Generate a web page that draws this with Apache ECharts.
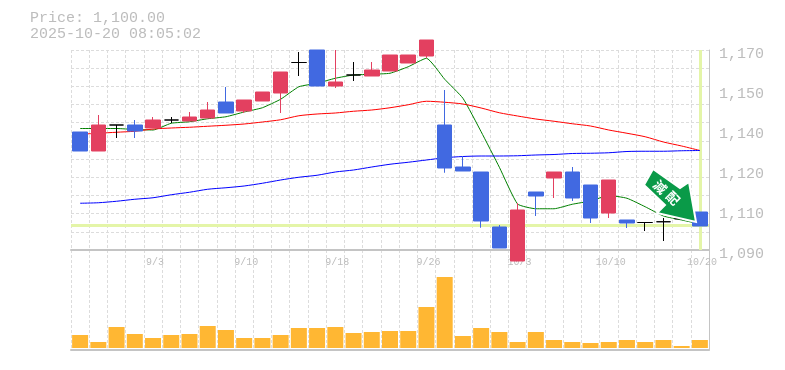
<!DOCTYPE html>
<html>
<head>
<meta charset="utf-8">
<style>
  html, body { margin: 0; padding: 0; background: #fff; }
  #chart { width: 785px; height: 370px; }
</style>
</head>
<body>
<div id="chart"></div>
<script src="https://cdn.jsdelivr.net/npm/echarts@6/dist/echarts.min.js"></script>
<script>
const dates = ['8/28', '8/29', '9/1', '9/2', '9/3', '9/4', '9/5', '9/8', '9/9', '9/10',
  '9/11', '9/12', '9/16', '9/17', '9/18', '9/19', '9/22', '9/24', '9/25', '9/26',
  '9/29', '9/30', '10/1', '10/2', '10/3', '10/6', '10/7', '10/8', '10/9', '10/10',
  '10/14', '10/15', '10/16', '10/17', '10/20']

// open, close, low, high
const candles = [
  [1137.2, 1129.6, 1129.6, 1137.2], [1129.6, 1140, 1129.6, 1144], [1140, 1140, 1134.8, 1140],
  [1140, 1137.6, 1134.8, 1142], [1138.8, 1142, 1138.8, 1143.2], [1142, 1142, 1140.8, 1143.2],
  [1141.6, 1143.2, 1141.6, 1145.2], [1142.8, 1146, 1142.8, 1149.2], [1149.2, 1144.8, 1144.8, 1155.2],
  [1145.6, 1150, 1144.8, 1150], [1149.6, 1153.2, 1149.6, 1153.2], [1152.8, 1161.2, 1144.8, 1161.2],
  [1165, 1165, 1159.6, 1169.2], [1170, 1155.6, 1155.6, 1170], [1155.6, 1157.2, 1154.8, 1170],
  [1160, 1160, 1157.6, 1165.2], [1159.6, 1162, 1159.6, 1165.2], [1161.6, 1168, 1161.6, 1168],
  [1164.8, 1168, 1164.8, 1168], [1167.6, 1174, 1166.8, 1174], [1140, 1122.8, 1120.9, 1154],
  [1123.2, 1121.6, 1121.6, 1127.6], [1121.2, 1101.6, 1098.9, 1121.2], [1099.2, 1090.8, 1090.8, 1100],
  [1085.6, 1106, 1085.6, 1108.8], [1113.2, 1111.6, 1103.6, 1113.2], [1118.8, 1121.2, 1110.8, 1121.2],
  [1121.2, 1110.8, 1109.6, 1123.2], [1116, 1102.8, 1100.8, 1116], [1104.8, 1118, 1102.8, 1118],
  [1102, 1100.8, 1098.8, 1102], [1101, 1101, 1097.6, 1101], [1101.3, 1101.3, 1093.6, 1102.8],
  [1102.5, 1102.5, 1102.2, 1102.8], [1105.2, 1099.6, 1099.6, 1105.2]
]

const maShort = [1138.6, 1138.6, 1138.6, 1138.2, 1138, 1140.7, 1141.3, 1142.5, 1143.3, 1145.2,
  1146.9, 1150.3, 1155.3, 1156.7, 1158.7, 1160, 1160.3, 1160.7, 1163.3, 1166.7,
  1158.3, 1150.7, 1137.3, 1123.1, 1108.4, 1106.5, 1106.5, 1108.3, 1109.6, 1111.8,
  1110.7, 1107.3, 1103.6, 1102, 1100.4]
const maMiddle = [1136.3, 1136.7, 1137.1, 1137.5, 1138.4, 1138.8, 1139.1, 1139.5, 1139.9, 1140.4,
  1141.2, 1142.1, 1143.7, 1144.4, 1144.8, 1145.5, 1146, 1146.9, 1148.1, 1149.5,
  1149.1, 1148.4, 1146.8, 1144.9, 1143.6, 1142.4, 1141.5, 1140.5, 1139.6, 1138,
  1136.7, 1135.3, 1133.2, 1131.6, 1129.8]
const maLong = [1108.7, 1108.9, 1109.5, 1110.3, 1110.9, 1112.1, 1113.1, 1114.3, 1114.9, 1115.6,
  1116.7, 1118, 1119.1, 1119.9, 1121.2, 1122, 1123.2, 1124.3, 1125.1, 1126,
  1126.9, 1127.4, 1127.6, 1127.6, 1127.7, 1128, 1128.2, 1128.6, 1128.7, 1128.9,
  1129.4, 1129.5, 1129.5, 1129.7, 1129.8]

const volumes = [13, 6, 21, 14, 10, 13, 14, 22, 18, 10, 10, 13, 20, 20, 21, 15, 16, 17,
  17, 41, 71, 12, 20, 16, 6, 16, 8, 6, 5, 6, 8, 6, 8, 2, 8]

const priceTicks = [1090, 1106, 1122, 1138, 1154, 1170]
const priceTickLabels = ['1,090', '1,110', '1,120', '1,140', '1,150', '1,170']
const lastPrice = 1100
const lastDate = '10/20'
const headerLines = ['Price: 1,100.00', '2025-10-20 08:05:02']
const badgeChars = ['減', '配']

const gray = '#bdbdbd'
const gridLine = { show: true, interval: 0, lineStyle: { color: '#dcdcdc', type: [3, 2], width: 1 } }

const chart = echarts.init(document.getElementById('chart'), null, { renderer: 'canvas' })
chart.setOption({
  animation: false,
  backgroundColor: '#fff',
  title: {
    text: headerLines.join('\n'),
    left: 30,
    top: 10,
    padding: 0,
    textStyle: { fontFamily: 'Liberation Mono', fontSize: 15, fontWeight: 'normal', color: gray, lineHeight: 16 }
  },
  grid: [
    { left: 71, width: 638, top: 50, height: 200, borderWidth: 0 },
    { left: 71, width: 638, top: 250, height: 100, borderWidth: 0 }
  ],
  xAxis: [
    {
      type: 'category', gridIndex: 0, data: dates, boundaryGap: true,
      axisLine: { onZero: false, lineStyle: { color: '#c4c4c4', width: 2 } },
      axisTick: { show: false },
      splitLine: gridLine,
      axisLabel: {
        interval: (i) => i % 5 === 4,
        hideOverlap: false,
        color: gray, fontFamily: 'Liberation Mono', fontSize: 10, margin: 7, padding: [0, 0, 0, 4]
      }
    },
    {
      type: 'category', gridIndex: 1, data: dates, boundaryGap: true,
      axisLine: { onZero: false, lineStyle: { color: '#c4c4c4', width: 2 } },
      axisTick: { show: false }, axisLabel: { show: false },
      splitLine: gridLine
    }
  ],
  yAxis: [
    {
      type: 'value', gridIndex: 0, position: 'right', min: 1090, max: 1170, scale: true,
      axisLine: { show: true, onZero: false, lineStyle: { color: '#c4c4c4', width: 1 } },
      axisTick: { show: false },
      splitLine: { show: false },
      axisLabel: {
        customValues: priceTicks,
        formatter: (v) => priceTickLabels[priceTicks.indexOf(v)],
        color: gray, fontFamily: 'Liberation Mono', fontSize: 15, margin: 10,
        verticalAlign: 'top', lineHeight: 8, alignMinLabel: 'top', alignMaxLabel: 'top'
      }
    },
    {
      // only there for the 11 horizontal dotted rows
      type: 'value', gridIndex: 0, position: 'left', min: 0, max: 11, interval: 1,
      axisLine: { show: false }, axisTick: { show: false }, axisLabel: { show: false },
      splitLine: { show: true, lineStyle: { color: '#dcdcdc', type: [3, 2], width: 1 } }
    },
    {
      type: 'value', gridIndex: 1, position: 'right', min: -2, max: 98,
      axisLine: { show: true, onZero: false, lineStyle: { color: '#c4c4c4', width: 1 } },
      axisTick: { show: false }, axisLabel: { show: false }, splitLine: { show: false }
    }
  ],
  series: [
    {
      name: 'ma5', type: 'line', data: maShort, xAxisIndex: 0, yAxisIndex: 0, z: 3,
      symbol: 'none', smooth: 0.15, lineStyle: { color: '#008000', width: 1 },
      markLine: {
        silent: true, symbol: 'none', label: { show: false }, z: 1,
        lineStyle: { color: '#e4f5a8', width: 3, type: 'solid' },
        data: [{ yAxis: lastPrice }, { xAxis: lastDate }]
      }
    },
    {
      name: 'ma25', type: 'line', data: maMiddle, xAxisIndex: 0, yAxisIndex: 0, z: 3,
      symbol: 'none', smooth: 0.25, lineStyle: { color: '#ff0000', width: 1 }
    },
    {
      name: 'ma75', type: 'line', data: maLong, xAxisIndex: 0, yAxisIndex: 0, z: 3,
      symbol: 'none', smooth: 0.25, lineStyle: { color: '#0000ff', width: 1 }
    },
    {
      name: 'price', type: 'candlestick', data: candles, xAxisIndex: 0, yAxisIndex: 0, z: 4,
      barWidth: 15, clip: false,
      itemStyle: {
        color: '#e34060', color0: '#4169e1',
        borderColor: '#e34060', borderColor0: '#4169e1', borderColorDoji: '#000', borderWidth: 1
      }
    },
    {
      name: 'volume', type: 'bar', data: volumes, xAxisIndex: 1, yAxisIndex: 2, z: 4,
      barWidth: 16, itemStyle: { color: '#ffb733' }
    }
  ],
  graphic: [
    {
      type: 'polygon', z: 20,
      shape: { points: [[653, 169], [680, 188], [689, 182], [696, 222], [657, 213], [665, 205], [644, 185]] },
      style: { fill: '#0a9a48', stroke: '#fff', lineWidth: 2 }
    },
    {
      type: 'text', z: 21, x: 660, y: 187, rotation: -Math.PI / 4,
      style: {
        text: badgeChars[0], fill: '#fff', fontFamily: 'Noto Sans CJK JP', fontWeight: 'bold', fontSize: 13,
        align: 'center', verticalAlign: 'middle'
      }
    },
    {
      type: 'text', z: 21, x: 673, y: 198, rotation: -Math.PI / 4,
      style: {
        text: badgeChars[1], fill: '#fff', fontFamily: 'Noto Sans CJK JP', fontWeight: 'bold', fontSize: 13,
        align: 'center', verticalAlign: 'middle'
      }
    }
  ]
})
</script>
</body>
</html>
